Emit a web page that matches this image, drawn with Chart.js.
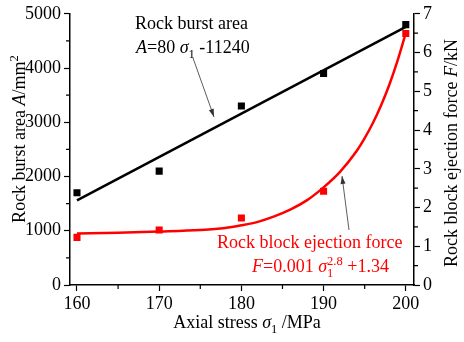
<!DOCTYPE html>
<html>
<head>
<meta charset="utf-8">
<script src="https://cdn.jsdelivr.net/npm/chart.js@4"></script>
<style>
  html, body { margin: 0; padding: 0; background: #fff; }
  #wrap { width: 464px; height: 342px; }
</style>
</head>
<body>
<div id="wrap"><canvas id="chart" width="464" height="342"></canvas></div>
<script>
// axial stress categories (MPa)
const stress = [160, 170, 180, 190, 200];
// measured rock burst area (mm^2), left axis
const burstArea = [1700, 2100, 3300, 3900, 4800];
// measured ejection force (kN), right axis
const ejectForce = [1.23, 1.42, 1.73, 2.42, 6.49];
// fitted line for burst area
const areaFitX = [160, 200];
const areaFitY = [1560, 4760];
// fitted curve for ejection force
const forceFitX = [160, 165, 170, 175, 178, 180, 182, 184, 186, 188, 190, 192, 194, 195, 196, 197, 198, 199, 200];
const forceFitY = [1.33, 1.35, 1.38, 1.42, 1.47, 1.54, 1.63, 1.77, 1.95, 2.19, 2.52, 2.92, 3.45, 3.79, 4.18, 4.64, 5.17, 5.79, 6.50];
// tick labels
const xTicks = [160, 170, 180, 190, 200];
const xMinor = [165, 175, 185, 195];

const FONT = '"Liberation Serif", "Times New Roman", serif';
const RED = '#ff0000';
const FS = 18;

function pts(xs, ys) {
    return xs.map((x, i) => ({ x: x, y: ys[i] }));
}

// draws a run of text pieces: {t, it, sub, sup}
function richText(ctx, x, y, parts, size, color) {
    ctx.fillStyle = color;
    ctx.textBaseline = 'alphabetic';
    ctx.textAlign = 'left';
    let cx = x;
    parts.forEach(p => {
        const s = (p.sub || p.sup) ? size * 0.7 : size;
        ctx.font = (p.it ? 'italic ' : '') + s + 'px ' + FONT;
        let dy = 0;
        if (p.sub) dy = size * 0.3;
        if (p.sup) dy = -size * 0.4;
        ctx.fillText(p.t, cx, y + dy);
        if (!p.noAdvance) cx += ctx.measureText(p.t).width;
    });
    return cx;
}

function measure(ctx, parts, size) {
    let w = 0;
    parts.forEach(p => {
        const s = (p.sub || p.sup) ? size * 0.7 : size;
        ctx.font = (p.it ? 'italic ' : '') + s + 'px ' + FONT;
        if (!p.noAdvance) w += ctx.measureText(p.t).width;
    });
    return w;
}

function arrow(ctx, x1, y1, x2, y2, color) {
    ctx.save();
    ctx.strokeStyle = color;
    ctx.fillStyle = color;
    ctx.lineWidth = 0.8;
    ctx.beginPath();
    ctx.moveTo(x1, y1);
    ctx.lineTo(x2, y2);
    ctx.stroke();
    const a = Math.atan2(y2 - y1, x2 - x1);
    const L = 8, W = 2.5;
    ctx.beginPath();
    ctx.moveTo(x2, y2);
    ctx.lineTo(x2 - L * Math.cos(a) + W * Math.sin(a), y2 - L * Math.sin(a) - W * Math.cos(a));
    ctx.lineTo(x2 - L * Math.cos(a) - W * Math.sin(a), y2 - L * Math.sin(a) + W * Math.cos(a));
    ctx.closePath();
    ctx.fill();
    ctx.restore();
}

const decor = {
    id: 'decor',
    afterDraw(chart) {
        const ctx = chart.ctx;
        const x = chart.scales.x, yA = chart.scales.yA, yF = chart.scales.yF;
        ctx.save();
        // minor ticks
        ctx.strokeStyle = '#000';
        ctx.lineWidth = 1.2;
        ctx.beginPath();
        xMinor.forEach(v => {
            const px = x.getPixelForValue(v);
            ctx.moveTo(px, x.top); ctx.lineTo(px, x.top + 4);
        });
        for (let v = 500; v < 5000; v += 1000) {
            const py = yA.getPixelForValue(v);
            ctx.moveTo(yA.right, py); ctx.lineTo(yA.right - 4, py);
        }
        for (let v = 0.5; v < 7; v += 1) {
            const py = yF.getPixelForValue(v);
            ctx.moveTo(yF.left, py); ctx.lineTo(yF.left + 4, py);
        }
        ctx.stroke();

        // axis titles
        ctx.save();
        ctx.translate(25, 139);
        ctx.rotate(-Math.PI / 2);
        let parts = [{ t: 'Rock burst area ' }, { t: 'A', it: true }, { t: '/mm' }, { t: '2', sup: true }];
        let w = measure(ctx, parts, FS);
        richText(ctx, -w / 2, 0, parts, FS, '#000');
        ctx.restore();

        ctx.save();
        ctx.translate(457, 153);
        ctx.rotate(-Math.PI / 2);
        parts = [{ t: 'Rock block ejection force ' }, { t: 'F', it: true }, { t: '/kN' }];
        w = measure(ctx, parts, FS);
        richText(ctx, -w / 2, 0, parts, FS, '#000');
        ctx.restore();

        parts = [{ t: 'Axial stress ' }, { t: 'σ', it: true }, { t: '1', sub: true }, { t: ' /MPa' }];
        w = measure(ctx, parts, FS);
        richText(ctx, 247 - w / 2, 328, parts, FS, '#000');

        // annotations
        richText(ctx, 135, 29, [{ t: 'Rock burst area' }], FS, '#000');
        richText(ctx, 136, 53, [{ t: 'A', it: true }, { t: '=80 ' }, { t: 'σ', it: true }, { t: '1', sub: true }, { t: ' -11240' }], FS, '#000');
        arrow(ctx, 193, 58, 214, 117, '#333');

        richText(ctx, 217, 248, [{ t: 'Rock block ejection force' }], FS, RED);
        richText(ctx, 252, 272, [{ t: 'F', it: true }, { t: '=0.001 ' }, { t: 'σ', it: true },
            { t: '1', sub: true, noAdvance: true }, { t: '2.8', sup: true }, { t: ' +1.34' }], FS, RED);
        arrow(ctx, 349, 230, 342, 176, '#333');
        ctx.restore();
    }
};

const tickFont = { family: FONT, size: FS };

const ctx = document.getElementById('chart').getContext('2d');
const chart = new Chart(ctx, {
    type: 'scatter',
    data: {
        datasets: [
            {
                label: 'area fit',
                type: 'line',
                data: pts(areaFitX, areaFitY),
                yAxisID: 'yA',
                borderColor: '#000',
                borderWidth: 2.5,
                pointRadius: 0,
                fill: false
            },
            {
                label: 'force fit',
                type: 'line',
                data: pts(forceFitX, forceFitY),
                yAxisID: 'yF',
                borderColor: RED,
                borderWidth: 2.5,
                pointRadius: 0,
                cubicInterpolationMode: 'monotone',
                fill: false
            },
            {
                label: 'Rock burst area',
                data: pts(stress, burstArea),
                yAxisID: 'yA',
                pointStyle: 'rect',
                pointRadius: 5,
                backgroundColor: '#000',
                borderWidth: 0
            },
            {
                label: 'Rock block ejection force',
                data: pts(stress, ejectForce),
                yAxisID: 'yF',
                pointStyle: 'rect',
                pointRadius: 5,
                backgroundColor: RED,
                borderWidth: 0
            }
        ]
    },
    options: {
        responsive: false,
        animation: false,
        layout: { padding: { top: 6, left: 0, right: 0, bottom: 0 } },
        plugins: { legend: { display: false }, tooltip: { enabled: false } },
        scales: {
            x: {
                type: 'linear',
                min: 159.15,
                max: 201,
                afterBuildTicks: s => { s.ticks = xTicks.map(v => ({ value: v })); },
                afterFit: s => { s.height = 57; },
                border: { color: '#000', width: 1.5 },
                grid: { drawOnChartArea: false, tickLength: 6, color: '#000', tickWidth: 1.2 },
                ticks: { color: '#000', font: tickFont, padding: 2, maxRotation: 0, callback: v => String(v) }
            },
            yA: {
                position: 'left',
                min: 0,
                max: 5000,
                afterFit: s => { s.width = 70; },
                border: { color: '#000', width: 1.5 },
                grid: { drawOnChartArea: false, tickLength: 6, color: '#000', tickWidth: 1.2 },
                ticks: { stepSize: 1000, color: '#000', font: tickFont, padding: 3, callback: v => String(v) }
            },
            yF: {
                position: 'right',
                min: 0,
                max: 7,
                afterFit: s => { s.width = 50; },
                border: { color: '#000', width: 1.5 },
                grid: { drawOnChartArea: false, tickLength: 6, color: '#000', tickWidth: 1.2 },
                ticks: { stepSize: 1, color: '#000', font: tickFont, padding: 3, callback: v => String(v) }
            }
        }
    },
    plugins: [decor]
});
</script>
</body>
</html>
